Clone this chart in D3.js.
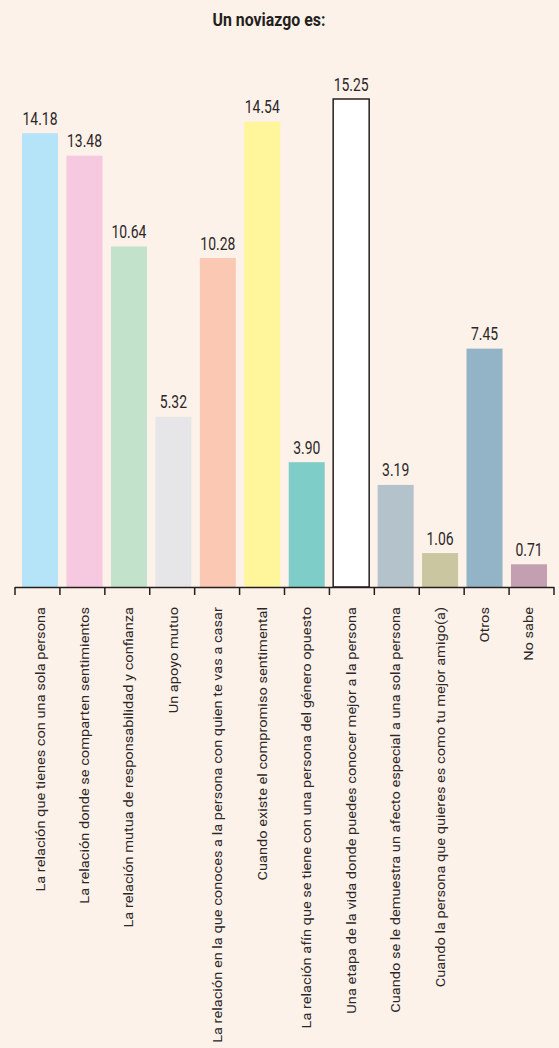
<!DOCTYPE html>
<html>
<head>
<meta charset="utf-8">
<script src="https://cdn.jsdelivr.net/npm/d3@7"></script>
<style>
  html, body { margin: 0; padding: 0; background: #fdf2e9; }
  svg { display: block; }
  text { font-family: Roboto, "DejaVu Sans Condensed", sans-serif; fill: #2b2728; }
</style>
</head>
<body>
<svg id="chart" width="559" height="1048"></svg>
<script>
const categories = [
  "La relación que tienes con una sola persona",
  "La relación donde se comparten sentimientos",
  "La relación mutua de responsabilidad y confianza",
  "Un apoyo mutuo",
  "La relación en la que conoces a la persona con quien te vas a casar",
  "Cuando existe el compromiso sentimental",
  "La relación afín que se tiene con una persona del género opuesto",
  "Una etapa de la vida donde puedes conocer mejor a la persona",
  "Cuando se le demuestra un afecto especial a una sola persona",
  "Cuando la persona que quieres es como tu mejor amigo(a)",
  "Otros",
  "No sabe"
];
const values = [14.18, 13.48, 10.64, 5.32, 10.28, 14.54, 3.90, 15.25, 3.19, 1.06, 7.45, 0.71];
const colors = ["#b5e3f8", "#f7c9e0", "#c2e2cc", "#e6e6e8", "#fbc8b4", "#fff59b",
                "#7ecdc8", "#ffffff", "#b3c2cb", "#c9c6a0", "#93b4c7", "#c39fb1"];
const title = "Un noviazgo es:";

const svg = d3.select("#chart");
const W = 559, H = 1048;
const baseY = 587;

// bars band scale and axis band scale
const x = d3.scaleBand().domain(categories).range([17.8, 551.2]).paddingInner(0.19).paddingOuter(0.095);
const xAxis = d3.scaleBand().domain(categories).range([15, 554]);
const y = d3.scaleLinear().domain([0, 15.25]).range([baseY, 99]);

svg.append("rect").attr("width", W).attr("height", H).attr("fill", "#fdf2e9");

// helper: squeeze text horizontally to reach a target width
function squeeze(sel, target) {
  const len = sel.node().getComputedTextLength();
  return target / len;
}

// title
const t = svg.append("text")
  .attr("text-anchor", "middle")
  .style("font-weight", "bold")
  .style("font-size", "18.7px")
  .style("fill", "#231f20")
  .text(title);
const tk = squeeze(t, 113);
t.attr("transform", `translate(269,26) scale(${tk},1)`);

// bars
svg.append("g").selectAll("rect").data(values).join("rect")
  .attr("x", (d, i) => x(categories[i]))
  .attr("y", d => y(d))
  .attr("width", x.bandwidth())
  .attr("height", d => baseY - y(d))
  .attr("fill", (d, i) => colors[i])
  .attr("stroke", (d, i) => colors[i] === "#ffffff" ? "#231f20" : "none")
  .attr("stroke-width", 1.5);

// value labels
const vl = svg.append("g").selectAll("text").data(values).join("text")
  .attr("text-anchor", "middle")
  .style("font-size", "18.7px")
  .text(d => d.toFixed(2));
const vk = squeeze(d3.select(vl.nodes()[0]), 35);
vl.attr("transform", (d, i) => `translate(${x(categories[i]) + x.bandwidth()/2},${y(d) - 8.5}) scale(${vk},1)`);

// axis
const axisG = svg.append("g");
axisG.append("line").attr("x1", 15).attr("x2", 554).attr("y1", baseY + 0.5).attr("y2", baseY + 0.5)
  .attr("stroke", "#231f20").attr("stroke-width", 1.5);
const bounds = categories.map(c => xAxis(c)).concat([554]);
axisG.selectAll("line.tick").data(bounds).join("line").attr("class", "tick")
  .attr("x1", d => d).attr("x2", d => d)
  .attr("y1", baseY).attr("y2", baseY + 8)
  .attr("stroke", "#231f20").attr("stroke-width", 1.5);

// category labels
const cl = svg.append("g").selectAll("text").data(categories).join("text")
  .attr("text-anchor", "end")
  .style("font-size", "12px")
  .text(c => c);
const ck = squeeze(d3.select(cl.nodes()[0]), 285);
cl.attr("transform", c => `translate(${x(c) + x.bandwidth()/2 + 4.5},607) rotate(-90) scale(${ck},1)`);
</script>
</body>
</html>
